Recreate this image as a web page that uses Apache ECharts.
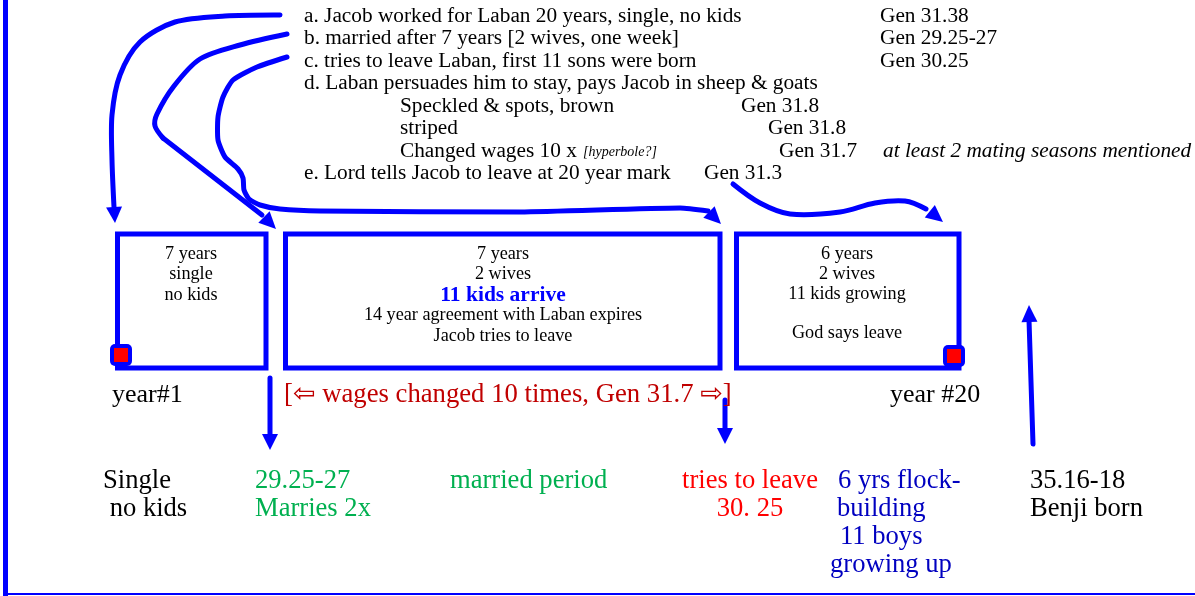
<!DOCTYPE html>
<html>
<head>
<meta charset="utf-8">
<script src="https://cdn.jsdelivr.net/npm/echarts@6/dist/echarts.min.js"></script>
<style>
html,body{margin:0;padding:0;background:#fff;}
#c{width:1195px;height:596px;}
</style>
</head>
<body>
<div id="c"></div>
<script>
// ---- content ----
var notes = [
  'a. Jacob worked for Laban 20 years, single, no kids',
  'b. married after 7 years [2 wives, one week]',
  'c. tries to leave Laban, first 11 sons were born',
  'd. Laban persuades him to stay, pays Jacob in sheep & goats',
  'Speckled & spots, brown',
  'striped',
  'Changed wages 10 x',
  'e. Lord tells Jacob to leave at 20 year mark'
];
var noteRefs = ['Gen 31.38', 'Gen 29.25-27', 'Gen 30.25', '', 'Gen 31.8', 'Gen 31.8', 'Gen 31.7', 'Gen 31.3'];
var hyperbole = '[hyperbole?]';
var matingNote = 'at least 2 mating seasons mentioned';
var box1Lines = ['7 years', 'single', 'no kids'];
var box2Lines = ['7 years', '2 wives', '11 kids arrive', '14 year agreement with Laban expires', 'Jacob tries to leave'];
var box3Lines = ['6 years', '2 wives', '11 kids growing', '', 'God says leave'];
var yearLabels = ['year#1', 'year #20'];
var wagesParts = ['[', '\u21E6', ' wages changed 10 times, Gen 31.7 ', '\u21E8', ']'];
var bottomGroups = [
  ['Single', ' no kids'],
  ['29.25-27', 'Marries 2x'],
  ['married period'],
  ['tries to leave', '30. 25'],
  ['6 yrs flock-', 'building', '11 boys', 'growing up'],
  ['35.16-18', 'Benji born']
];

// ---- layout / style ----
var SERIF = '"Liberation Serif", "Times New Roman", serif';
var BLUE = '#0000FF';
var g = [];
function txt(x, y, s, size, opt) {
  opt = opt || {};
  g.push({type: 'text', x: x, y: y, z: 10, style: {
    text: s, fill: opt.fill || '#000',
    font: (opt.italic ? 'italic ' : '') + (opt.bold ? 'bold ' : '') + size + 'px ' + (opt.family || SERIF),
    textAlign: opt.align || 'left', textVerticalAlign: 'middle', verticalAlign: 'middle'
  }});
}
function line(pts, w, smooth) {
  g.push({type: 'polyline', z: 5, shape: {points: pts, smooth: smooth || 0}, style: {stroke: BLUE, lineWidth: w || 5, fill: null, lineCap: 'round', lineJoin: 'round'}});
}
function head(tip, from, len, half) {
  var dx = tip[0] - from[0], dy = tip[1] - from[1];
  var d = Math.sqrt(dx * dx + dy * dy); dx /= d; dy /= d;
  var bx = tip[0] - dx * len, by = tip[1] - dy * len;
  g.push({type: 'polygon', z: 6, shape: {points: [tip, [bx - dy * half, by + dx * half], [bx + dy * half, by - dx * half]]}, style: {fill: BLUE}});
}
function box(x1, y1, x2, y2) {
  g.push({type: 'rect', z: 4, shape: {x: x1, y: y1, width: x2 - x1, height: y2 - y1}, style: {stroke: BLUE, lineWidth: 5, fill: null}});
}
function marker(cx, cy) {
  g.push({type: 'rect', z: 7, shape: {x: cx - 11, y: cy - 11, width: 22, height: 22, r: 5}, style: {fill: BLUE}});
  g.push({type: 'rect', z: 8, shape: {x: cx - 7, y: cy - 7, width: 14, height: 14}, style: {fill: '#FF0000'}});
}

// frame
g.push({type: 'rect', shape: {x: 3, y: 0, width: 5, height: 596}, style: {fill: BLUE}});
g.push({type: 'rect', shape: {x: 3, y: 593, width: 1192, height: 2}, style: {fill: BLUE}});

// notes
var noteX = [304, 304, 304, 304, 400, 400, 400, 304];
var refX = [880, 880, 880, 0, 741, 768, 779, 704];
notes.forEach(function (s, i) {
  var y = 16 + i * 22.5;
  txt(noteX[i], y, s, 21.3);
  if (noteRefs[i]) txt(refX[i], y, noteRefs[i], 21.3);
});
txt(583, 16 + 6 * 22.5 + 1, hyperbole, 14, {italic: true});
txt(883, 16 + 6 * 22.5, matingNote, 21.3, {italic: true});

// boxes
box(117.5, 234, 266, 368);
box(285.5, 234, 720, 368);
box(736.5, 234, 959, 368);
marker(121, 355);
marker(954, 356);
box1Lines.forEach(function (s, i) { txt(191, 254 + i * 20.5, s, 18.2, {align: 'center'}); });
box2Lines.forEach(function (s, i) {
  if (i === 2) txt(503, 254 + i * 20.5, s, 21.5, {bold: true, fill: '#0000FF', align: 'center'});
  else txt(503, 254 + i * 20.5, s, 18.2, {align: 'center'});
});
box3Lines.forEach(function (s, i) { if (s) txt(847, 254 + i * 20 - (i === 4 ? 1 : 0), s, 18.2, {align: 'center'}); });

// year labels + wages
txt(112, 395, yearLabels[0], 26);
txt(890, 395, yearLabels[1], 26);
g.push({type: 'text', x: 284, y: 395, z: 10, style: {
  text: '{a|' + wagesParts[0] + '}{r|' + wagesParts[1] + '}{a|' + wagesParts[2] + '}{r|' + wagesParts[3] + '}{a|' + wagesParts[4] + '}',
  textVerticalAlign: 'middle', verticalAlign: 'middle',
  rich: {
    a: {fill: '#C00000', fontSize: 26.7, fontFamily: SERIF},
    r: {fill: '#C00000', fontSize: 27, fontFamily: '"DejaVu Sans", sans-serif'}
  }
}});

// bottom texts
var bColors = ['#000', '#00B050', '#00B050', '#FF0000', '#0000C0', '#000'];
var bX = [[103, 103], [255, 255], [450], [750, 750], [838, 837, 840, 830], [1030, 1030]];
var bAlign = ['left', 'left', 'left', 'center', 'left', 'left'];
bottomGroups.forEach(function (grp, k) {
  grp.forEach(function (s, i) {
    txt(bX[k][i], 481 + i * 28, s, 26.6, {fill: bColors[k], align: bAlign[k]});
  });
});

// arrows
line([[280, 15], [225, 16], [175, 22], [140, 42], [120, 75], [112, 115], [112, 160], [114, 207]], 5, 0.3);
head([115, 223], [114, 206], 16, 8);
line([[287, 34], [240, 45], [200, 59], [174, 86], [157, 114], [155, 126], [163, 138]], 5, 0.3);
line([[163, 138], [262, 215]], 5);
head([276, 229], [262, 215], 17, 8);
line([[287, 57], [257, 67], [233, 80], [223, 97], [218, 117], [218, 140], [225, 157], [238, 169], [243, 178], [244, 190], [249, 199], [260, 205], [280, 209], [320, 211], [520, 212], [680, 208], [708, 211]], 5, 0.2);
head([721, 224], [708, 211], 17, 8);
line([[733, 184], [760, 203], [790, 214], [840, 212], [875, 203], [905, 201], [926, 209]], 5, 0.35);
head([943, 222], [927, 209], 17, 8);
line([[270, 378], [270, 436]], 5);
head([270, 450], [270, 430], 16, 8);
line([[725, 400], [725, 430]], 5);
head([725, 444], [725, 425], 16, 8);
line([[1033, 444], [1029, 320]], 5);
head([1029, 305], [1029.5, 325], 17, 8);

var chart = echarts.init(document.getElementById('c'), null, {renderer: 'canvas'});
chart.setOption({animation: false, backgroundColor: '#fff', graphic: {elements: g}});
</script>
</body>
</html>
